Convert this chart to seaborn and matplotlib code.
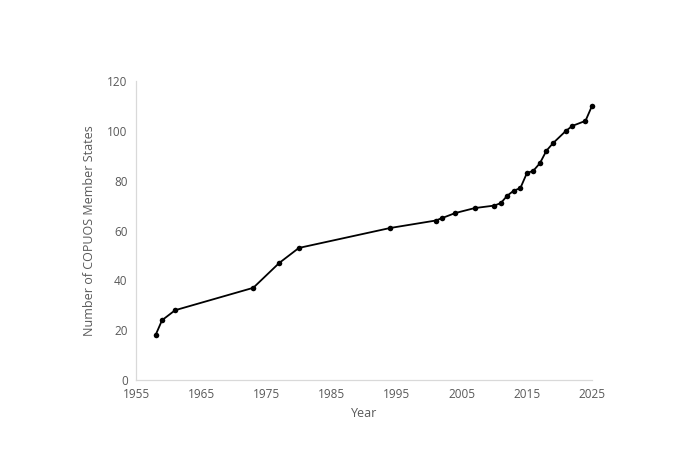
import pandas as pd
import seaborn as sns
import matplotlib.pyplot as plt

years = [1958, 1959, 1961, 1973, 1977, 1980, 1994, 2001, 2002, 2004, 2007,
         2010, 2011, 2012, 2013, 2014, 2015, 2016, 2017, 2018, 2019, 2021,
         2022, 2024, 2025]
members = [18, 24, 28, 37, 47, 53, 61, 64, 65, 67, 69,
           70, 71, 74, 76, 77, 83, 84, 87, 92, 95, 100,
           102, 104, 110]
x_ticks = [1955, 1965, 1975, 1985, 1995, 2005, 2015, 2025]
y_ticks = [0, 20, 40, 60, 80, 100, 120]

df = pd.DataFrame({"Year": years, "Members": members})

sns.set_style("white")
plt.rcParams["font.family"] = ["Open Sans", "DejaVu Sans"]

fig = plt.figure(figsize=(6.81, 4.58), dpi=100)
ax = fig.add_axes([136 / 681, 1 - 380 / 458, 456 / 681, 299 / 458])

sns.lineplot(data=df, x="Year", y="Members", ax=ax, color="black",
             linewidth=1.3, marker="o", markersize=4, markeredgewidth=0,
             clip_on=False)

ax.set_xlim(1955, 2025)
ax.set_ylim(0, 120)
ax.set_xticks(x_ticks)
ax.set_yticks(y_ticks)
ax.tick_params(axis="both", labelsize=8.5, labelcolor="#595959", length=0, pad=6)
for s in ["top", "right"]:
    ax.spines[s].set_visible(False)
for s in ["left", "bottom"]:
    ax.spines[s].set_color("#d9d9d9")
    ax.spines[s].set_linewidth(0.9)

ax.set_xlabel("Year", fontsize=9, color="#595959", labelpad=4)
ax.set_ylabel("Number of COPUOS Member States", fontsize=9, color="#595959", labelpad=8)

fig.savefig("out.png", dpi=100)
